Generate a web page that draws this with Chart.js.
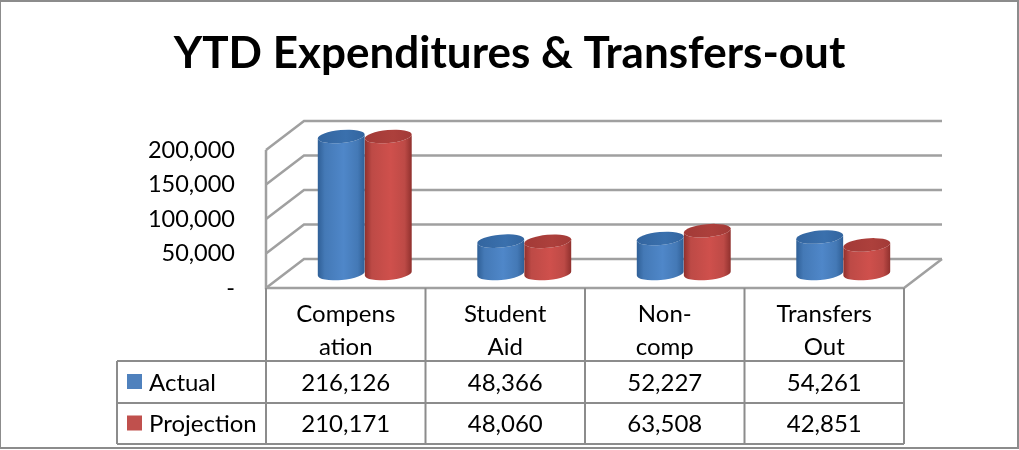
<!DOCTYPE html>
<html>
<head>
<meta charset="utf-8">
<style>
html, body { margin: 0; background: #fff; overflow: hidden; }
#wrap { position: relative; width: 1019px; height: 450px; }
</style>
<script src="https://cdn.jsdelivr.net/npm/chart.js@4"></script>
</head>
<body>
<div id="wrap"><canvas id="barChart"></canvas></div>
<script>
const categories = [['Compens', 'ation'], ['Student', 'Aid'], ['Non-', 'comp'], ['Transfers', 'Out']];
const actual = [216126, 48366, 52227, 54261];
const projection = [210171, 48060, 63508, 42851];
const seriesNames = ['Actual', 'Projection'];
const seriesColors = ['#4f81bd', '#c0504d'];
const yTicks = [0, 50000, 100000, 150000, 200000];

const FONT = 'Lato, Calibri, sans-serif';
const DEPTH_X = 38, DEPTH_Y = 29;
const tableRows = [361, 403, 444];
const tableLeft = 117;

function shade(i) {
    return i === 0
        ? { edge: '#2f5f96', mid: '#4f87c9', light: '#4479b6', cap: '#33659f', cap2: '#3a70ad' }
        : { edge: '#8f302d', mid: '#cf504c', light: '#bd4a46', cap: '#a23a37', cap2: '#ad403c' };
}

function cylinder(ctx, left, right, top, bottom, i) {
    const c = shade(i);
    const rx = (right - left) / 2, ry = 6.5, cx = (left + right) / 2;
    const tilt = -0.09;
    const g = ctx.createLinearGradient(left, 0, right, 0);
    g.addColorStop(0, c.edge);
    g.addColorStop(0.15, c.light);
    g.addColorStop(0.55, c.mid);
    g.addColorStop(0.85, c.light);
    g.addColorStop(1, c.edge);
    ctx.fillStyle = g;
    ctx.beginPath();
    ctx.ellipse(cx, bottom, rx, ry, tilt, 0, Math.PI);
    ctx.ellipse(cx, top, rx, ry, tilt, Math.PI, 0, true);
    ctx.closePath();
    ctx.fill();
    const cg = ctx.createLinearGradient(left, 0, right, 0);
    cg.addColorStop(0, c.cap);
    cg.addColorStop(0.6, c.cap2);
    cg.addColorStop(1, c.cap);
    ctx.fillStyle = cg;
    ctx.beginPath();
    ctx.ellipse(cx, top, rx, ry, tilt, 0, Math.PI * 2);
    ctx.fill();
}

const chart3d = {
    id: 'chart3d',
    beforeDraw(chart) {
        const ctx = chart.ctx;
        ctx.save();
        ctx.fillStyle = '#fff';
        ctx.fillRect(0, 0, chart.width, chart.height);
        ctx.strokeStyle = '#8c8c8c';
        ctx.lineWidth = 2;
        ctx.strokeRect(0, 1, chart.width - 1, 447);
        ctx.restore();
    },
    // replaces the flat bars with walls, floor and cylinders
    beforeDatasetsDraw(chart) {
        const ctx = chart.ctx, a = chart.chartArea, y = chart.scales.y;
        ctx.save();
        ctx.strokeStyle = '#a0a0a0';
        ctx.lineWidth = 2.5;
        yTicks.forEach(v => {
            const p = y.getPixelForValue(v);
            ctx.beginPath();
            ctx.moveTo(a.left, p);
            ctx.lineTo(a.left + DEPTH_X, p - DEPTH_Y);
            ctx.lineTo(a.right + DEPTH_X, p - DEPTH_Y);
            ctx.stroke();
        });
        ctx.beginPath();
        ctx.moveTo(a.left, a.top);
        ctx.lineTo(a.left, a.bottom);
        ctx.lineTo(a.right, a.bottom);
        ctx.lineTo(a.right + DEPTH_X, a.bottom - DEPTH_Y);
        ctx.stroke();

        chart.data.datasets.forEach((ds, i) => {
            chart.getDatasetMeta(i).data.forEach(bar => {
                const top = Math.max(bar.y, a.top);
                cylinder(ctx, bar.x - bar.width / 2 + DEPTH_X / 2, bar.x + bar.width / 2 + DEPTH_X / 2,
                    top - DEPTH_Y / 2 + 1, bar.base - DEPTH_Y / 2, i);
            });
        });
        ctx.restore();
        return false;
    },
    // data table under the axis
    afterDraw(chart) {
        const ctx = chart.ctx, a = chart.chartArea, x = chart.scales.x;
        const band = (a.right - a.left) / categories.length;
        ctx.save();
        ctx.strokeStyle = '#8c8c8c';
        ctx.lineWidth = 2;
        ctx.beginPath();
        categories.forEach((c, i) => {
            const edge = x.getPixelForValue(i) - band / 2;
            ctx.moveTo(edge, a.bottom);
            ctx.lineTo(edge, tableRows[2]);
        });
        ctx.moveTo(a.right, a.bottom);
        ctx.lineTo(a.right, tableRows[2]);
        ctx.moveTo(tableLeft, tableRows[0]);
        ctx.lineTo(tableLeft, tableRows[2]);
        tableRows.forEach(r => {
            ctx.moveTo(tableLeft, r);
            ctx.lineTo(a.right, r);
        });
        ctx.stroke();

        ctx.font = '24px ' + FONT;
        ctx.textBaseline = 'middle';
        chart.data.datasets.forEach((ds, i) => {
            const mid = (tableRows[i] + tableRows[i + 1]) / 2;
            ctx.fillStyle = seriesColors[i];
            ctx.fillRect(127, mid - 8, 15, 15);
            ctx.fillStyle = '#000';
            ctx.textAlign = 'left';
            ctx.fillText(seriesNames[i], 149, mid + 1);
            ctx.textAlign = 'center';
            ds.data.forEach((v, j) => {
                ctx.fillText(v.toLocaleString('en-US'), x.getPixelForValue(j), mid + 1);
            });
        });
        ctx.restore();
    }
};

const myChart = new Chart(document.getElementById('barChart').getContext('2d'), {
    type: 'bar',
    data: {
        labels: categories,
        datasets: [
            { label: seriesNames[0], data: actual, backgroundColor: seriesColors[0] },
            { label: seriesNames[1], data: projection, backgroundColor: seriesColors[1] }
        ]
    },
    plugins: [chart3d],
    options: {
        responsive: true,
        maintainAspectRatio: false,
        animation: false,
        layout: { padding: 0 },
        categoryPercentage: 0.59,
        barPercentage: 1,
        plugins: {
            legend: { display: false },
            tooltip: { enabled: false },
            title: {
                display: true,
                text: 'YTD Expenditures & Transfers-out',
                color: '#000',
                font: { family: FONT, size: 44, weight: 'bold', lineHeight: 1.2 },
                padding: { top: 27, bottom: 70.2 }
            }
        },
        scales: {
            x: {
                grid: { display: false },
                border: { display: false },
                afterFit(scale) { scale.height = 162; },
                ticks: {
                    color: '#000',
                    autoSkip: false,
                    maxRotation: 0,
                    padding: 2,
                    font: { family: FONT, size: 24, lineHeight: 1.38 }
                }
            },
            y: {
                min: 0,
                max: 200000,
                grid: { display: false, drawTicks: false },
                border: { display: false },
                afterFit(scale) { scale.width = 266; },
                ticks: {
                    color: '#000',
                    stepSize: 50000,
                    padding: 31,
                    font: { family: FONT, size: 23.5 },
                    callback: v => (v === 0 ? '-' : v.toLocaleString('en-US'))
                }
            },
            // empty axis, keeps the right margin without shifting the title
            side: {
                position: 'right',
                grid: { display: false },
                border: { display: false },
                ticks: { display: false },
                afterFit(scale) { scale.width = 115; }
            }
        }
    }
});
</script>
</body>
</html>
